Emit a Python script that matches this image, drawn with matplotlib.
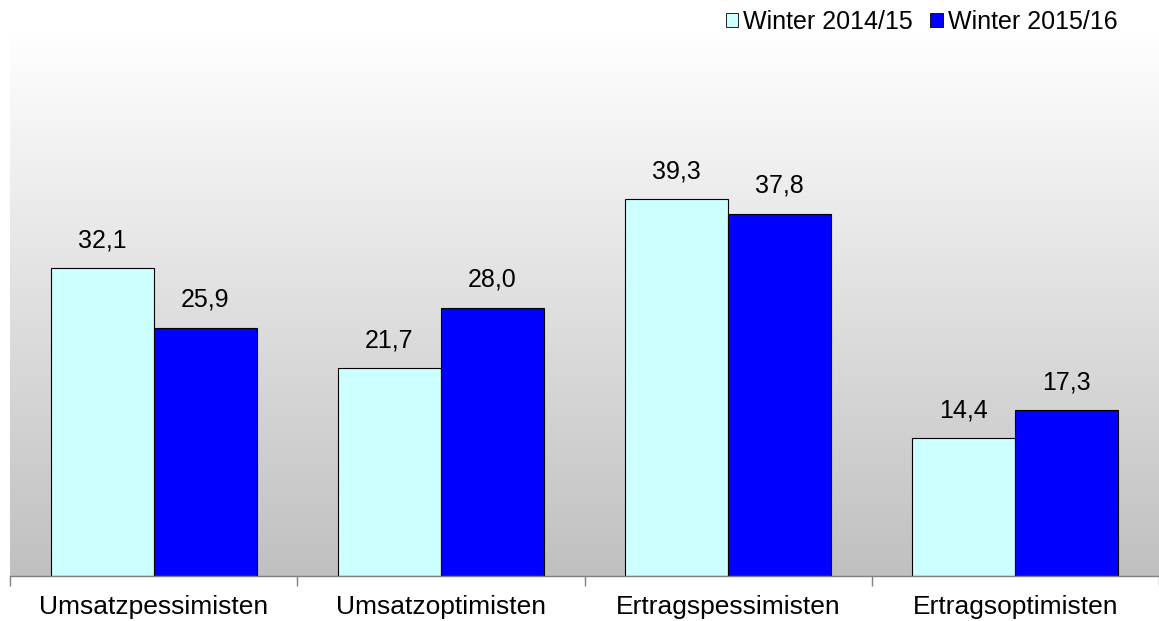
import numpy as np
import matplotlib.pyplot as plt
from matplotlib.colors import LinearSegmentedColormap
from matplotlib.patches import Patch

plt.rcParams['font.family'] = ['Liberation Sans', 'DejaVu Sans']

categories = ['Umsatzpessimisten', 'Umsatzoptimisten', 'Ertragspessimisten', 'Ertragsoptimisten']
series_names = ['Winter 2014/15', 'Winter 2015/16']
winter_1415 = [32.1, 21.7, 39.3, 14.4]
winter_1516 = [25.9, 28.0, 37.8, 17.3]

colors = ['#CCFFFF', '#0000FF']

fig = plt.figure(figsize=(11.59, 6.21), dpi=100)
ax = fig.add_axes([10 / 1159, 45 / 621, 1149 / 1159, 544 / 621])

# gradient background, white at top to grey at bottom
grad = np.linspace(1, 0, 256).reshape(-1, 1)
cmap = LinearSegmentedColormap.from_list('g', ['#C0C0C0', '#FFFFFF'])
ax.imshow(grad, extent=[0, 1, 0, 1], transform=ax.transAxes, aspect='auto',
          cmap=cmap, zorder=0)

x = np.arange(len(categories))
w = 0.359
bars1 = ax.bar(x - w / 2, winter_1415, w, color=colors[0], edgecolor='black', linewidth=0.8, zorder=2)
bars2 = ax.bar(x + w / 2, winter_1516, w, color=colors[1], edgecolor='black', linewidth=0.8, zorder=2)

for bars, vals in [(bars1, winter_1415), (bars2, winter_1516)]:
    for b, v in zip(bars, vals):
        ax.text(b.get_x() + b.get_width() / 2, v + 2.9, f'{v:.1f}'.replace('.', ','),
                ha='center', va='center', fontsize=18)

ax.set_xlim(-0.5, len(categories) - 0.5)
ax.set_ylim(0, 56.75)
ax.set_xticks(x)
ax.set_xticklabels(categories, fontsize=19)
ax.set_xticks(np.arange(-0.5, len(categories)), minor=True)
ax.tick_params(axis='x', which='major', length=0, pad=14)
ax.tick_params(axis='x', which='minor', length=7, color='#808080', width=1)
ax.set_yticks([])
for s in ['top', 'right', 'left']:
    ax.spines[s].set_visible(False)
ax.spines['bottom'].set_color('#808080')
ax.spines['bottom'].set_linewidth(1)

handles = [Patch(facecolor=c, edgecolor='black', linewidth=0.6) for c in colors]
fig.legend(handles, series_names, loc='center right', bbox_to_anchor=(1130 / 1159, 1 - 22 / 621),
           ncol=2, frameon=False, fontsize=18, handlelength=0.5, handleheight=0.5,
           handletextpad=0.2, columnspacing=0.7, borderpad=0)

fig.savefig('out.png', dpi=100)
